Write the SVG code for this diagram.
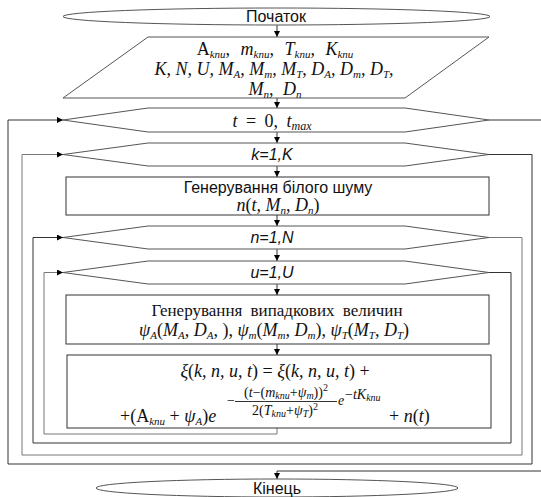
<svg xmlns="http://www.w3.org/2000/svg" width="541" height="497" viewBox="0 0 541 497">
<style>
.bg{fill:#fff}
.sh{fill:#fff;stroke:#555;stroke-width:1}
.bx{fill:#fff;stroke:#333;stroke-width:1}
.ln{fill:none;stroke:#333;stroke-width:1}
.lg{fill:none;stroke:#777;stroke-width:1}
.sans{font-family:"Liberation Sans",Arial,sans-serif;font-size:16px;fill:#111}
.si{font-family:"Liberation Sans",Arial,sans-serif;font-size:16px;font-style:italic;fill:#111}
.ser{font-family:"Liberation Serif","Times New Roman",serif;font-size:17px;fill:#111}
.m{font-family:"Liberation Serif","Times New Roman",serif;font-size:18px;font-style:italic;fill:#111}
.s{font-size:11px}
.e{font-family:"Liberation Serif","Times New Roman",serif;font-size:14px;font-style:italic;fill:#111}
.ss{font-size:10px}
.up{font-style:normal}
</style>
<defs>
<marker id="ar" markerWidth="7" markerHeight="6" refX="6" refY="3" orient="auto" markerUnits="userSpaceOnUse">
<path d="M0,0 L6,3 L0,6 Z" fill="#000"/>
</marker>
</defs>
<rect class="bg" x="0" y="0" width="541" height="497"/>

<g id="connectors">
<path class="ln" d="M277,25 V37" marker-end="url(#ar)"/>
<path class="ln" d="M277,98 V108" marker-end="url(#ar)"/>
<path class="ln" d="M277,132 V143" marker-end="url(#ar)"/>
<path class="ln" d="M277,166 V177" marker-end="url(#ar)"/>
<path class="ln" d="M277,215 V226" marker-end="url(#ar)"/>
<path class="ln" d="M277,249 V261" marker-end="url(#ar)"/>
<path class="ln" d="M277,284 V295" marker-end="url(#ar)"/>
<path class="ln" d="M277,344 V355" marker-end="url(#ar)"/>
<path class="lg" d="M277,428 V434 H44 V272.5 H63" marker-end="url(#ar)"/>
<path class="ln" d="M489,272.5 H511 V443 H33 V237.5 H63" marker-end="url(#ar)"/>
<path class="lg" d="M489,237.5 H522 V455 H22 V154.5 H63" marker-end="url(#ar)"/>
<path class="ln" d="M489,154.5 H532 V464 H8 V120 H63" marker-end="url(#ar)"/>
<path class="ln" d="M489,120 H545 V471 H277 V479" marker-end="url(#ar)"/>
</g>

<g id="start">
<ellipse class="sh" cx="276.5" cy="16.5" rx="213.5" ry="8.5"/>
<text class="sans" x="276" y="22" text-anchor="middle">Початок</text>
</g>

<g id="input">
<polygon class="sh" points="148,37 489,37 405,98 63,98"/>
<text class="m" x="275" y="55" text-anchor="middle" word-spacing="6"><tspan class="up">A</tspan><tspan class="s" dy="3">knu</tspan><tspan dy="-3">, m</tspan><tspan class="s" dy="3">knu</tspan><tspan dy="-3">, T</tspan><tspan class="s" dy="3">knu</tspan><tspan dy="-3">, K</tspan><tspan class="s" dy="3">knu</tspan></text>
<text class="m" x="274" y="75" text-anchor="middle">K, N, U, M<tspan class="s" dy="3">A</tspan><tspan dy="-3">, M</tspan><tspan class="s" dy="3">m</tspan><tspan dy="-3">, M</tspan><tspan class="s" dy="3">T</tspan><tspan dy="-3">, D</tspan><tspan class="s" dy="3">A</tspan><tspan dy="-3">, D</tspan><tspan class="s" dy="3">m</tspan><tspan dy="-3">, D</tspan><tspan class="s" dy="3">T</tspan><tspan dy="-3">,</tspan></text>
<text class="m" x="275" y="95" text-anchor="middle" word-spacing="5">M<tspan class="s" dy="3">n</tspan><tspan dy="-3">, D</tspan><tspan class="s" dy="3">n</tspan></text>
</g>

<g id="loop-t">
<polygon class="sh" points="63,120 148,108 405,108 489,120 405,132 148,132"/>
<text class="m" x="272" y="127" text-anchor="middle" font-size="19" word-spacing="4">t <tspan class="up">= 0,</tspan> t<tspan font-size="12" dy="3">max</tspan></text>
</g>

<g id="loop-k">
<polygon class="sh" points="63,154.5 148,143 405,143 489,154.5 405,166 148,166"/>
<text class="si" x="272" y="160" text-anchor="middle">k=1,K</text>
</g>

<g id="noise">
<rect class="bx" x="66" y="177" width="423" height="38"/>
<text class="sans" x="278" y="193" text-anchor="middle" font-size="16.5">Генерування білого шуму</text>
<text class="m" x="278" y="211" text-anchor="middle">n<tspan class="up">(</tspan>t, M<tspan class="s" dy="3">n</tspan><tspan dy="-3">, D</tspan><tspan class="s" dy="3">n</tspan><tspan dy="-3" class="up">)</tspan></text>
</g>

<g id="loop-n">
<polygon class="sh" points="63,237.5 148,226 405,226 489,237.5 405,249 148,249"/>
<text class="si" x="272" y="243" text-anchor="middle">n=1,N</text>
</g>

<g id="loop-u">
<polygon class="sh" points="63,272.5 148,261 405,261 489,272.5 405,284 148,284"/>
<text class="si" x="272" y="278" text-anchor="middle">u=1,U</text>
</g>

<g id="random">
<rect class="bx" x="66" y="295" width="423" height="49"/>
<text class="ser" x="277" y="316" text-anchor="middle" word-spacing="4">Генерування випадкових величин</text>
<text class="m" x="274" y="336" text-anchor="middle">ψ<tspan class="s" dy="3">A</tspan><tspan dy="-3" class="up">(</tspan>M<tspan class="s" dy="3">A</tspan><tspan dy="-3">, D</tspan><tspan class="s" dy="3">A</tspan><tspan dy="-3" class="up">, ), </tspan>ψ<tspan class="s" dy="3">m</tspan><tspan dy="-3" class="up">(</tspan>M<tspan class="s" dy="3">m</tspan><tspan dy="-3">, D</tspan><tspan class="s" dy="3">m</tspan><tspan dy="-3" class="up">), </tspan>ψ<tspan class="s" dy="3">T</tspan><tspan dy="-3" class="up">(</tspan>M<tspan class="s" dy="3">T</tspan><tspan dy="-3">, D</tspan><tspan class="s" dy="3">T</tspan><tspan dy="-3" class="up">)</tspan></text>
</g>

<g id="formula">
<rect class="bx" x="67" y="355" width="424" height="73"/>
<text class="m" x="275" y="377" text-anchor="middle">ξ<tspan class="up">(</tspan>k, n, u, t<tspan class="up">) = </tspan>ξ<tspan class="up">(</tspan>k, n, u, t<tspan class="up">) +</tspan></text>
<text class="m" x="120" y="422"><tspan class="up">+(A</tspan><tspan class="s" dy="3">knu</tspan><tspan dy="-3" class="up"> + </tspan>ψ<tspan class="s" dy="3">A</tspan><tspan dy="-3" class="up">)</tspan>e</text>
<text class="e" x="226" y="405">−</text>
<line class="ln" x1="235" y1="401.5" x2="337" y2="401.5"/>
<text class="e" x="286" y="397" text-anchor="middle"><tspan class="up">(</tspan>t<tspan class="up">−(</tspan>m<tspan class="ss" dy="2">knu</tspan><tspan class="up" dy="-2">+</tspan>ψ<tspan class="ss" dy="2">m</tspan><tspan class="up" dy="-2">))</tspan><tspan class="up" font-size="10" dy="-6">2</tspan></text>
<text class="e" x="285" y="415" text-anchor="middle"><tspan class="up">2(</tspan>T<tspan class="ss" dy="2">knu</tspan><tspan class="up" dy="-2">+</tspan>ψ<tspan class="ss" dy="2">T</tspan><tspan class="up" dy="-2">)</tspan><tspan class="up" font-size="10" dy="-5">2</tspan></text>
<text class="e" x="338" y="405">e</text>
<text class="e" x="345" y="399"><tspan class="up">−</tspan>tK<tspan class="ss" dy="2">knu</tspan></text>
<text class="m" x="389" y="422"><tspan class="up">+ </tspan>n<tspan class="up">(</tspan>t<tspan class="up">)</tspan></text>
</g>

<g id="end">
<ellipse class="sh" cx="277" cy="488" rx="181" ry="9"/>
<text class="sans" x="277" y="494" text-anchor="middle">Кінець</text>
</g>
</svg>
